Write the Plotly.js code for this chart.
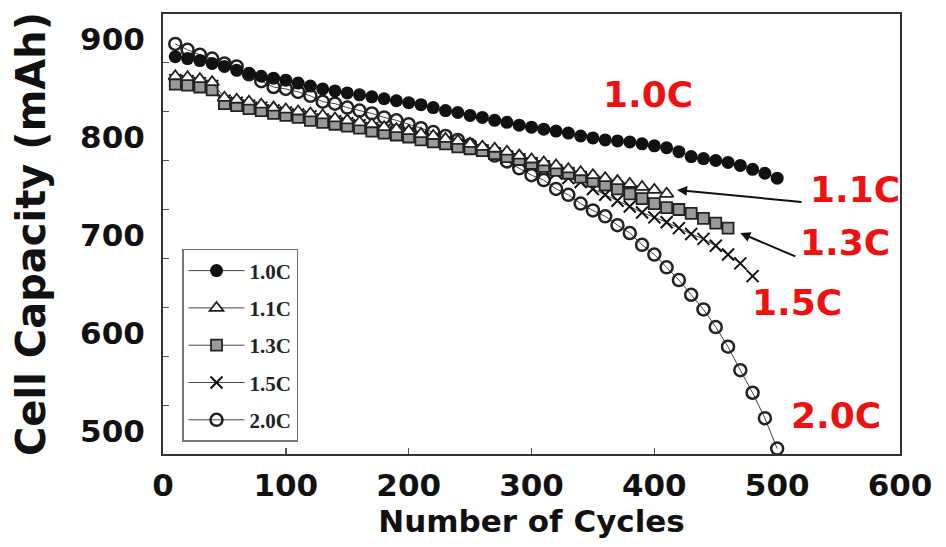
<!DOCTYPE html>
<html>
<head>
<meta charset="utf-8">
<script src="https://cdn.plot.ly/plotly-3.0.1.min.js"></script>
<style>
html,body{margin:0;padding:0;background:#fff;}
#chart{width:946px;height:547px;}
</style>
</head>
<body>
<div id="chart"></div>
<script>
// Cycle numbers (x values)
const cycles = [10,20,30,40,50,60,70,80,90,100,110,120,130,140,150,160,170,180,190,200,
  210,220,230,240,250,260,270,280,290,300,310,320,330,340,350,360,370,380,390,400,
  410,420,430,440,450,460,470,480,490,500];

// Cell capacity (mAh) per C-rate
const cap10C = [882,880,878,875,872,868,865,862,860,858,855,852,849,847,845,843,841,839,837,835,
  833,830,827,825,822,820,817,815,812,810,808,806,804,801,799,797,796,795,793,791,
  789,785,780,778,776,774,771,767,763,758];
const cap11C = [862,861,859,856,840,838,836,833,830,828,826,824,822,819,817,815,813,810,808,806,
  803,801,798,796,793,790,788,785,781,777,774,771,767,764,761,758,755,752,749,746,742];
const cap13C = [854,853,851,848,834,832,829,827,824,822,820,817,815,813,811,809,806,804,802,800,
  797,795,793,790,788,786,783,780,777,773,770,766,763,759,755,751,747,742,737,732,
  728,726,722,717,712,707];
const cap15C = [858,857,855,852,837,835,832,830,827,825,823,821,818,816,814,812,809,807,805,803,
  800,798,795,792,790,786,783,779,775,771,767,763,758,754,747,741,735,729,723,718,
  713,707,701,696,689,680,671,658];
const cap20C = [895,889,884,880,875,872,864,857,851,849,846,842,836,834,830,827,824,820,817,813,
  809,805,801,797,792,787,781,775,768,761,756,747,741,732,725,719,710,702,690,680,
  667,654,639,624,606,586,562,539,513,482];

const seriesNames = ["1.0C","1.1C","1.3C","1.5C","2.0C"];
const xTickVals = [0,100,200,300,400,500,600];
const yTickVals = [500,600,700,800,900];
const yTickText = ["500","600","700","800","900"];
const yTickMarks = [526,576,626,676,726,776,826,876];
const xTickMarks = [100,200,300,400];

const lineStyle = {color:'#444', width:1};
const traces = [
  // empty helper traces so the tick-mark overlay axes are drawn
  {x:[], y:[], xaxis:'x2', yaxis:'y', showlegend:false, hoverinfo:'skip', mode:'markers'},
  {x:[], y:[], xaxis:'x', yaxis:'y2', showlegend:false, hoverinfo:'skip', mode:'markers'},
  {name:seriesNames[4], x:cycles.slice(0,cap20C.length), y:cap20C, legendrank:5, legendgroup:'g5',
   mode:'lines+markers', line:lineStyle,
   marker:{symbol:'circle-open', size:12, color:'#222', line:{width:2.5}}},
  {name:seriesNames[3], x:cycles.slice(0,cap15C.length), y:cap15C, legendrank:4, legendgroup:'g4',
   mode:'lines+markers', line:lineStyle,
   marker:{symbol:'x-thin-open', size:12, color:'#111', line:{width:2, color:'#111'}}},
  {name:seriesNames[2], x:cycles.slice(0,cap13C.length), y:cap13C, legendrank:3, legendgroup:'g3',
   mode:'lines+markers', line:lineStyle,
   marker:{symbol:'square', size:11, color:'#9a9a9a', line:{width:1.8, color:'#222'}}},
  {name:seriesNames[1], x:cycles.slice(0,cap11C.length), y:cap11C, legendrank:2, legendgroup:'g2',
   mode:'lines+markers', line:lineStyle,
   marker:{symbol:'triangle-up', size:12, color:'#ffffff', line:{width:1.8, color:'#222'}}},
  {name:seriesNames[0], x:cycles.slice(0,cap10C.length), y:cap10C, legendrank:1, legendgroup:'g1',
   mode:'lines+markers', line:lineStyle,
   marker:{symbol:'circle', size:13, color:'#111', line:{width:0}}}
];

const red = '#ee1111';
const labelFont = {family:'DejaVu Sans', size:36, color:red, weight:'bold'};
const annotations = [
  {x:395, y:843, text:'<b>1.0C</b>'},
  {x:563.5, y:746, text:'<b>1.1C</b>'},
  {x:555.5, y:692, text:'<b>1.3C</b>'},
  {x:516, y:631.5, text:'<b>1.5C</b>'},
  {x:548, y:515.5, text:'<b>2.0C</b>'}
].map(a => Object.assign({xref:'x', yref:'y', showarrow:false, font:labelFont}, a));

annotations.push(
  {xref:'x', yref:'y', axref:'x', ayref:'y', x:418.5, y:746, ax:521, ay:733.5, text:'',
   showarrow:true, arrowhead:2, arrowsize:1, arrowwidth:2, arrowcolor:'#111', standoff:0},
  {xref:'x', yref:'y', axref:'x', ayref:'y', x:470, y:702, ax:516, ay:677.5, text:'',
   showarrow:true, arrowhead:2, arrowsize:1, arrowwidth:2, arrowcolor:'#111', standoff:0}
);

const axisFont = {family:'DejaVu Sans', size:31, color:'#111', weight:'bold'};
const xRange = [0,600];
const yRange = [476.5,925.5];
const layout = {
  width:946, height:547,
  margin:{l:163, r:46, t:14, b:93},
  paper_bgcolor:'#fff', plot_bgcolor:'#fff',
  showlegend:true,
  legend:{x:0.0258, y:0.466, xanchor:'left', yanchor:'top',
    bgcolor:'#fff', bordercolor:'#777', borderwidth:1.5,
    font:{family:'Liberation Serif', size:21, color:'#222', weight:'bold'},
    tracegroupgap:7, itemwidth:56, traceorder:'grouped'},
  xaxis:{range:xRange, tickvals:xTickVals, ticks:'', showgrid:false, zeroline:false,
    showline:true, linecolor:'#333', linewidth:2, mirror:true,
    tickfont:axisFont, ticklabelstandoff:3,
    title:{text:'<b>Number of Cycles</b>', font:{family:'DejaVu Sans', size:31, color:'#111'}, standoff:8}},
  yaxis:{range:yRange, tickvals:yTickVals, ticktext:yTickText, ticks:'', showgrid:false, zeroline:false,
    showline:true, linecolor:'#333', linewidth:2, mirror:true,
    tickfont:axisFont, ticklabelstandoff:10,
    title:{text:'<b>Cell Capacity (mAh)</b>', font:{family:'DejaVu Sans', size:40, color:'#111'}, standoff:22}},
  xaxis2:{overlaying:'x', anchor:'y', side:'bottom', range:xRange, tickvals:xTickMarks,
    ticks:'inside', ticklen:6, tickwidth:1.5, tickcolor:'#555', showticklabels:false,
    showgrid:false, zeroline:false, showline:false},
  yaxis2:{overlaying:'y', anchor:'x', side:'left', range:yRange, tickvals:yTickMarks,
    ticks:'inside', ticklen:6, tickwidth:1.5, tickcolor:'#555', showticklabels:false,
    showgrid:false, zeroline:false, showline:false},
  annotations:annotations
};

Plotly.newPlot('chart', traces, layout, {displayModeBar:false, staticPlot:true});
</script>
</body>
</html>
